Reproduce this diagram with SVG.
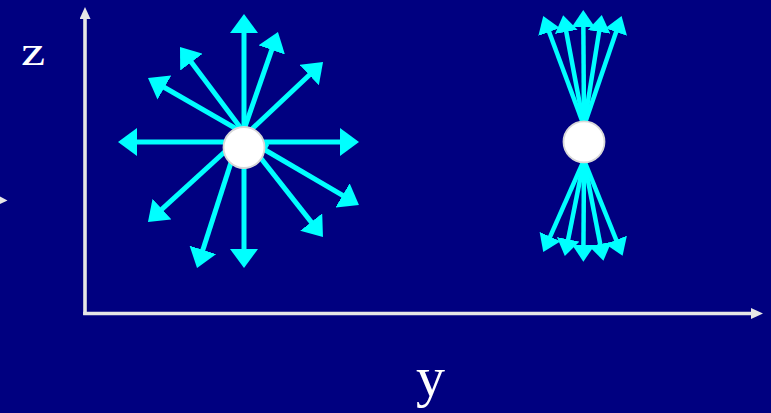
<svg xmlns="http://www.w3.org/2000/svg" width="771" height="413" viewBox="0 0 771 413">
<defs>
<style>
.ray{stroke:#00FFFF;stroke-width:5;fill:none;marker-end:url(#headL)}
.rayS{stroke:#00FFFF;stroke-width:4.5;fill:none;marker-end:url(#headS)}
.axis{stroke:#E6E6E6;stroke-width:3.6;fill:none}
.ball{fill:#FFFFFF;stroke:#D8D8D8;stroke-width:1.8}
.lbl{font-family:"Liberation Serif","Times New Roman",serif;fill:#FFFFFF}
</style>
<marker id="headL" markerUnits="userSpaceOnUse" viewBox="0 -14 19 28" refX="10" refY="0" markerWidth="19" markerHeight="28" orient="auto">
<path d="M0,-14 L19,0 L0,14 Z" fill="#00FFFF"/>
</marker>
<marker id="headS" markerUnits="userSpaceOnUse" viewBox="0 -11.5 17 23" refX="9" refY="0" markerWidth="17" markerHeight="23" orient="auto">
<path d="M0,-11.5 L17,0 L0,11.5 Z" fill="#00FFFF"/>
</marker>
<marker id="headA" markerUnits="userSpaceOnUse" viewBox="0 -5.5 12 11" refX="2" refY="0" markerWidth="12" markerHeight="11" orient="auto">
<path d="M0,-5.5 L12,0 L0,5.5 Z" fill="#E6E6E6"/>
</marker>
</defs>
<rect width="771" height="413" fill="#000080"/>
<g id="axes">
<line class="axis" x1="85" y1="315" x2="85" y2="17" marker-end="url(#headA)"/>
<line class="axis" x1="83.2" y1="313.5" x2="753" y2="313.5" marker-end="url(#headA)"/>
<polygon points="0,196.5 7.5,200.5 0,204" fill="#E6E6E6"/>
</g>
<g id="connectors">
<line class="ray" x1="244" y1="147" x2="244" y2="23"/>
<line class="ray" x1="238" y1="147" x2="275" y2="40.5"/>
<line class="ray" x1="233" y1="147" x2="316.5" y2="68.2"/>
<line class="ray" x1="255" y1="147" x2="185.4" y2="54.2"/>
<line class="ray" x1="268" y1="147" x2="155.8" y2="82.5"/>
<line class="ray" x1="244" y1="142" x2="127" y2="142"/>
<line class="ray" x1="244" y1="142" x2="350" y2="142"/>
<line class="ray" x1="230" y1="147" x2="154.6" y2="215.9"/>
<line class="ray" x1="236" y1="147" x2="199.8" y2="259.4"/>
<line class="ray" x1="244" y1="147" x2="244" y2="259"/>
<line class="ray" x1="252" y1="147" x2="317.4" y2="229.9"/>
<line class="ray" x1="260" y1="147" x2="351.2" y2="200.4"/>
<line class="rayS" x1="584" y1="126" x2="546" y2="23.5"/>
<line class="rayS" x1="584" y1="126" x2="564.6" y2="23"/>
<line class="rayS" x1="584" y1="126" x2="583.3" y2="18"/>
<line class="rayS" x1="584" y1="126" x2="600.5" y2="23"/>
<line class="rayS" x1="584" y1="126" x2="619" y2="23.5"/>
<line class="rayS" x1="584" y1="160" x2="546.5" y2="244.8"/>
<line class="rayS" x1="584" y1="160" x2="566.4" y2="248.2"/>
<line class="rayS" x1="584" y1="160" x2="583.4" y2="253.7"/>
<line class="rayS" x1="584" y1="160" x2="601.9" y2="252.8"/>
<line class="rayS" x1="584" y1="160" x2="619.6" y2="248.3"/>
</g>
<g id="particle-isotropic">
<circle class="ball" cx="244" cy="147.5" r="20.5"/>
</g>
<g id="particle-beamed">
<circle class="ball" cx="584" cy="141.8" r="20.5"/>
</g>
<g id="label-z">
<text class="lbl" x="0" y="0" font-size="42" transform="translate(21,65) scale(1.3,1)">z</text>
</g>
<g id="label-y">
<text class="lbl" x="416" y="396" font-size="58">y</text>
</g>
</svg>
